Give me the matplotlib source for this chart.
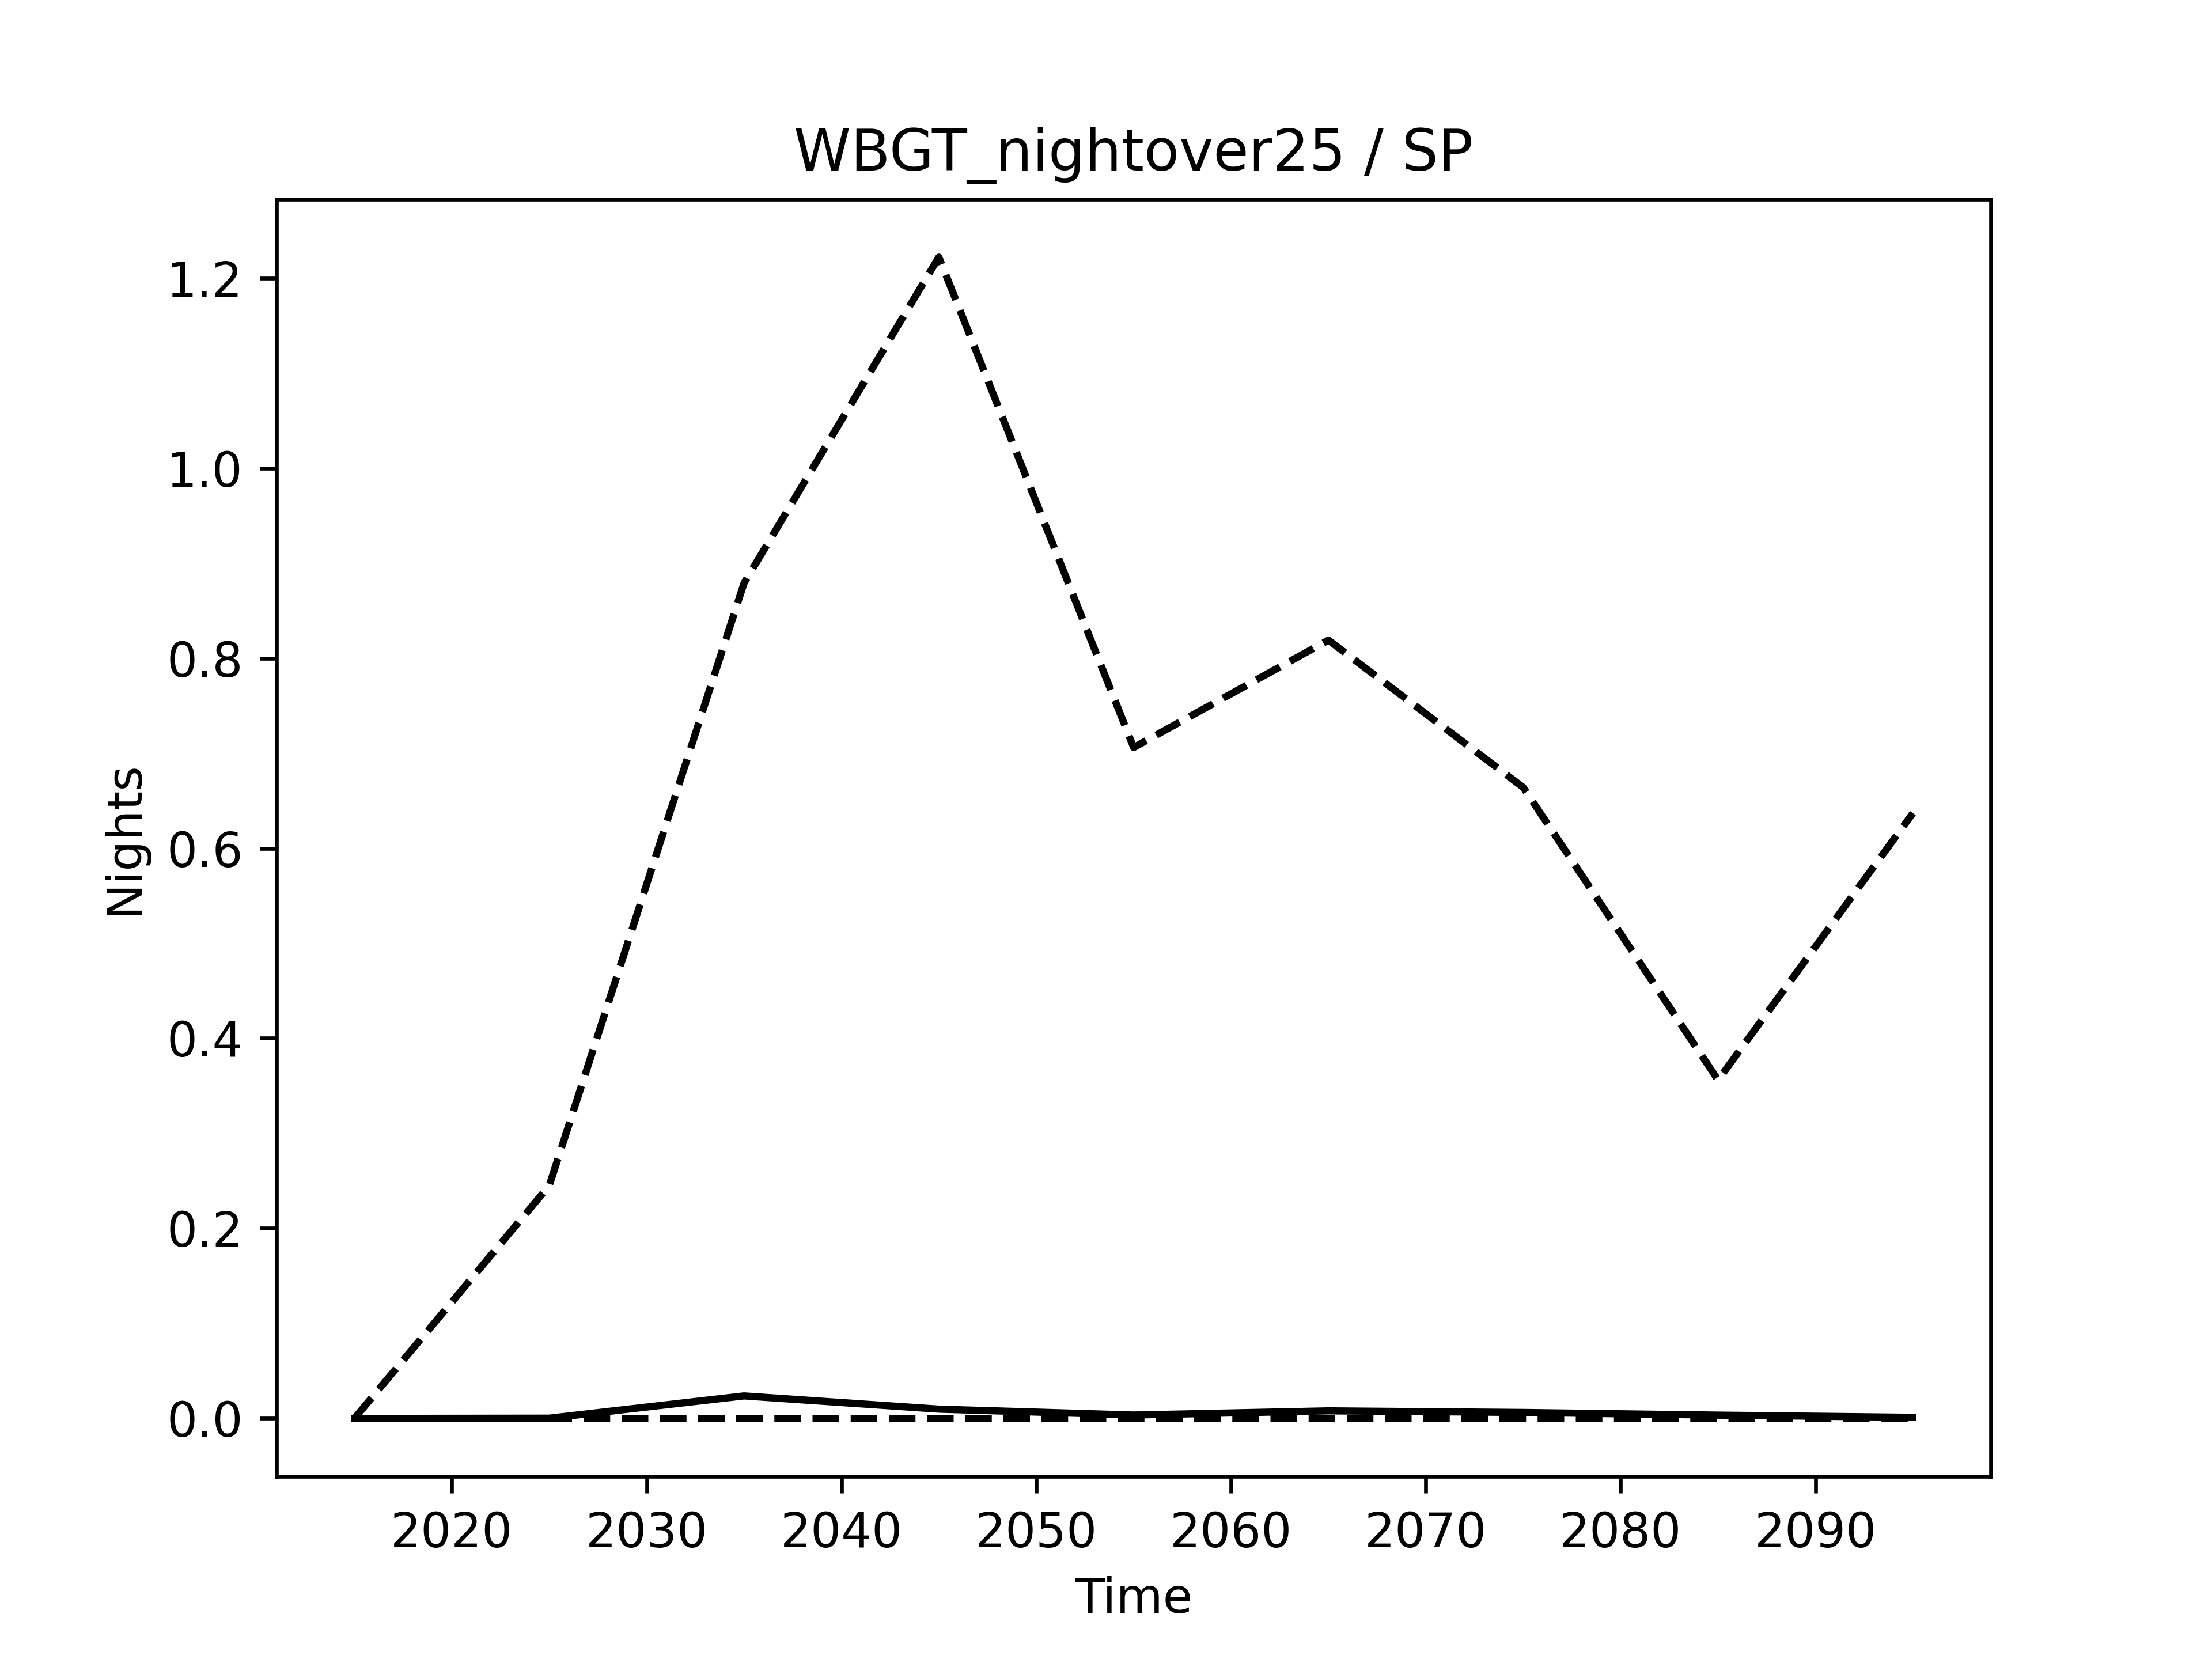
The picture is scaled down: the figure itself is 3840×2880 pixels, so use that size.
import matplotlib
matplotlib.use("Agg")
import matplotlib.pyplot as plt

years = [2015, 2025, 2035, 2045, 2055, 2065, 2075, 2085, 2095]
upper = [0.0, 0.245, 0.879, 1.222, 0.706, 0.819, 0.664, 0.356, 0.637]
median = [0.0, 0.0003, 0.0237, 0.0098, 0.0036, 0.0080, 0.0063, 0.0035, 0.0012]
lower = [0.0, 0.0, 0.0, 0.0, 0.0, 0.0, 0.0, 0.0, 0.0]

fig, ax = plt.subplots(figsize=(6.4, 4.8), dpi=600)
ax.plot(years, upper, color="black", linestyle="--")
ax.plot(years, median, color="black", linestyle="-")
ax.plot(years, lower, color="black", linestyle="--")
ax.set_title("WBGT_nightover25 / SP")
ax.set_xlabel("Time")
ax.set_ylabel("Nights")
fig.savefig("out.png", dpi=600)
